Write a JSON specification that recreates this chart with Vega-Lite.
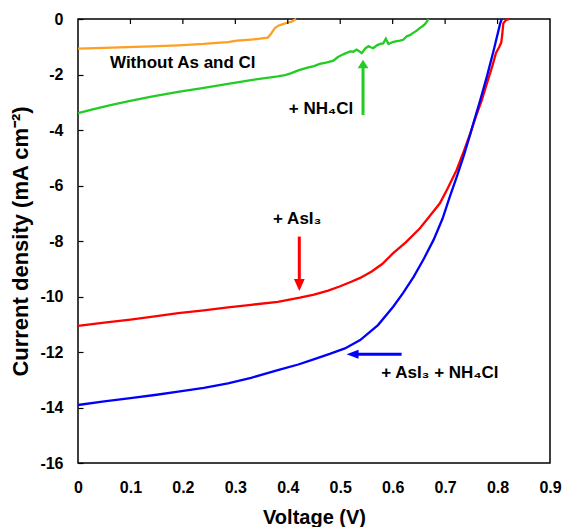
{
  "$schema": "https://vega.github.io/schema/vega-lite/v6.json",
  "width": 472,
  "height": 444,
  "autosize": {"type": "none"},
  "padding": {"left": 78, "top": 19, "right": 12, "bottom": 64},
  "background": "white",
  "config": {
    "font": "Liberation Sans",
    "view": {"stroke": "#000000", "strokeWidth": 1.5},
    "axis": {"labelFont": "Liberation Sans", "labelFontWeight": "bold", "labelFontSize": 16, "labelColor": "#000", "titleFont": "Liberation Sans", "titleFontWeight": "bold", "titleColor": "#000", "grid": false, "domain": false, "tickColor": "#000", "tickWidth": 1.2}
  },
  "datasets": {
    "curves": [
      {"V": 0, "J": -3.39, "s": "nh4cl"}, {"V": 0.03, "J": -3.25, "s": "nh4cl"}, {"V": 0.06, "J": -3.11, "s": "nh4cl"}, {"V": 0.095, "J": -2.97, "s": "nh4cl"}, {"V": 0.14, "J": -2.8, "s": "nh4cl"}, {"V": 0.191, "J": -2.63, "s": "nh4cl"}, {"V": 0.24, "J": -2.48, "s": "nh4cl"}, {"V": 0.286, "J": -2.34, "s": "nh4cl"}, {"V": 0.33, "J": -2.2, "s": "nh4cl"}, {"V": 0.381, "J": -2.07, "s": "nh4cl"}, {"V": 0.395, "J": -2.02, "s": "nh4cl"}, {"V": 0.407, "J": -1.95, "s": "nh4cl"}, {"V": 0.42, "J": -1.85, "s": "nh4cl"}, {"V": 0.436, "J": -1.76, "s": "nh4cl"}, {"V": 0.45, "J": -1.7, "s": "nh4cl"}, {"V": 0.461, "J": -1.62, "s": "nh4cl"}, {"V": 0.475, "J": -1.56, "s": "nh4cl"}, {"V": 0.487, "J": -1.5, "s": "nh4cl"}, {"V": 0.495, "J": -1.38, "s": "nh4cl"}, {"V": 0.503, "J": -1.3, "s": "nh4cl"}, {"V": 0.51, "J": -1.24, "s": "nh4cl"}, {"V": 0.519, "J": -1.17, "s": "nh4cl"}, {"V": 0.525, "J": -1.18, "s": "nh4cl"}, {"V": 0.531, "J": -1.1, "s": "nh4cl"}, {"V": 0.536, "J": -1.16, "s": "nh4cl"}, {"V": 0.541, "J": -1.23, "s": "nh4cl"}, {"V": 0.548, "J": -1.06, "s": "nh4cl"}, {"V": 0.554, "J": -0.98, "s": "nh4cl"}, {"V": 0.558, "J": -1.02, "s": "nh4cl"}, {"V": 0.563, "J": -1.05, "s": "nh4cl"}, {"V": 0.57, "J": -0.95, "s": "nh4cl"}, {"V": 0.576, "J": -0.9, "s": "nh4cl"}, {"V": 0.582, "J": -0.88, "s": "nh4cl"}, {"V": 0.587, "J": -0.71, "s": "nh4cl"}, {"V": 0.592, "J": -0.9, "s": "nh4cl"}, {"V": 0.6, "J": -0.83, "s": "nh4cl"}, {"V": 0.608, "J": -0.8, "s": "nh4cl"}, {"V": 0.614, "J": -0.78, "s": "nh4cl"}, {"V": 0.62, "J": -0.75, "s": "nh4cl"}, {"V": 0.627, "J": -0.62, "s": "nh4cl"}, {"V": 0.633, "J": -0.58, "s": "nh4cl"}, {"V": 0.639, "J": -0.5, "s": "nh4cl"}, {"V": 0.646, "J": -0.42, "s": "nh4cl"}, {"V": 0.652, "J": -0.32, "s": "nh4cl"}, {"V": 0.657, "J": -0.26, "s": "nh4cl"}, {"V": 0.662, "J": -0.18, "s": "nh4cl"}, {"V": 0.666, "J": -0.07, "s": "nh4cl"}, {"V": 0.668, "J": 0, "s": "nh4cl"},
      {"V": 0, "J": -1.07, "s": "none"}, {"V": 0.05, "J": -1.04, "s": "none"}, {"V": 0.093, "J": -1.01, "s": "none"}, {"V": 0.14, "J": -0.99, "s": "none"}, {"V": 0.191, "J": -0.95, "s": "none"}, {"V": 0.24, "J": -0.9, "s": "none"}, {"V": 0.264, "J": -0.86, "s": "none"}, {"V": 0.286, "J": -0.83, "s": "none"}, {"V": 0.303, "J": -0.78, "s": "none"}, {"V": 0.33, "J": -0.74, "s": "none"}, {"V": 0.347, "J": -0.71, "s": "none"}, {"V": 0.362, "J": -0.67, "s": "none"}, {"V": 0.367, "J": -0.56, "s": "none"}, {"V": 0.372, "J": -0.42, "s": "none"}, {"V": 0.376, "J": -0.32, "s": "none"}, {"V": 0.382, "J": -0.24, "s": "none"}, {"V": 0.388, "J": -0.2, "s": "none"}, {"V": 0.395, "J": -0.16, "s": "none"}, {"V": 0.4, "J": -0.12, "s": "none"}, {"V": 0.407, "J": -0.1, "s": "none"}, {"V": 0.412, "J": -0.04, "s": "none"}, {"V": 0.416, "J": 0, "s": "none"},
      {"V": 0, "J": -11.06, "s": "asi3"}, {"V": 0.05, "J": -10.94, "s": "asi3"}, {"V": 0.1, "J": -10.83, "s": "asi3"}, {"V": 0.15, "J": -10.71, "s": "asi3"}, {"V": 0.191, "J": -10.6, "s": "asi3"}, {"V": 0.24, "J": -10.5, "s": "asi3"}, {"V": 0.286, "J": -10.39, "s": "asi3"}, {"V": 0.33, "J": -10.3, "s": "asi3"}, {"V": 0.381, "J": -10.19, "s": "asi3"}, {"V": 0.423, "J": -10.04, "s": "asi3"}, {"V": 0.45, "J": -9.93, "s": "asi3"}, {"V": 0.477, "J": -9.79, "s": "asi3"}, {"V": 0.5, "J": -9.63, "s": "asi3"}, {"V": 0.521, "J": -9.47, "s": "asi3"}, {"V": 0.538, "J": -9.33, "s": "asi3"}, {"V": 0.56, "J": -9.1, "s": "asi3"}, {"V": 0.58, "J": -8.83, "s": "asi3"}, {"V": 0.601, "J": -8.44, "s": "asi3"}, {"V": 0.625, "J": -8.05, "s": "asi3"}, {"V": 0.652, "J": -7.54, "s": "asi3"}, {"V": 0.67, "J": -7.12, "s": "asi3"}, {"V": 0.69, "J": -6.64, "s": "asi3"}, {"V": 0.705, "J": -6.1, "s": "asi3"}, {"V": 0.722, "J": -5.44, "s": "asi3"}, {"V": 0.735, "J": -4.8, "s": "asi3"}, {"V": 0.748, "J": -4.12, "s": "asi3"}, {"V": 0.76, "J": -3.45, "s": "asi3"}, {"V": 0.77, "J": -2.92, "s": "asi3"}, {"V": 0.78, "J": -2.3, "s": "asi3"}, {"V": 0.79, "J": -1.7, "s": "asi3"}, {"V": 0.797, "J": -1.22, "s": "asi3"}, {"V": 0.803, "J": -1.02, "s": "asi3"}, {"V": 0.807, "J": -0.85, "s": "asi3"}, {"V": 0.809, "J": -0.55, "s": "asi3"}, {"V": 0.811, "J": -0.15, "s": "asi3"}, {"V": 0.816, "J": -0.04, "s": "asi3"}, {"V": 0.822, "J": 0, "s": "asi3"},
      {"V": 0, "J": -13.91, "s": "both"}, {"V": 0.05, "J": -13.78, "s": "both"}, {"V": 0.1, "J": -13.66, "s": "both"}, {"V": 0.15, "J": -13.54, "s": "both"}, {"V": 0.191, "J": -13.43, "s": "both"}, {"V": 0.24, "J": -13.29, "s": "both"}, {"V": 0.286, "J": -13.13, "s": "both"}, {"V": 0.33, "J": -12.93, "s": "both"}, {"V": 0.381, "J": -12.65, "s": "both"}, {"V": 0.42, "J": -12.45, "s": "both"}, {"V": 0.445, "J": -12.29, "s": "both"}, {"V": 0.48, "J": -12.07, "s": "both"}, {"V": 0.509, "J": -11.87, "s": "both"}, {"V": 0.538, "J": -11.57, "s": "both"}, {"V": 0.572, "J": -11.03, "s": "both"}, {"V": 0.601, "J": -10.37, "s": "both"}, {"V": 0.62, "J": -9.87, "s": "both"}, {"V": 0.64, "J": -9.29, "s": "both"}, {"V": 0.66, "J": -8.62, "s": "both"}, {"V": 0.678, "J": -7.96, "s": "both"}, {"V": 0.695, "J": -7.2, "s": "both"}, {"V": 0.709, "J": -6.4, "s": "both"}, {"V": 0.722, "J": -5.7, "s": "both"}, {"V": 0.735, "J": -4.96, "s": "both"}, {"V": 0.748, "J": -4.15, "s": "both"}, {"V": 0.754, "J": -3.75, "s": "both"}, {"V": 0.767, "J": -2.92, "s": "both"}, {"V": 0.78, "J": -2.05, "s": "both"}, {"V": 0.793, "J": -1.1, "s": "both"}, {"V": 0.805, "J": -0.16, "s": "both"}, {"V": 0.808, "J": 0, "s": "both"}
    ],
    "shafts": [
      {"V": 0.5435, "J": -3.46, "V2": 0.5435, "J2": -1.75, "s": "nh4cl"},
      {"V": 0.422, "J": -7.84, "V2": 0.422, "J2": -9.4, "s": "asi3"},
      {"V": 0.617, "J": -12.08, "V2": 0.53, "J2": -12.08, "s": "both"}
    ],
    "heads": [
      {"V": 0.5435, "J": -1.62, "s": "nh4cl"},
      {"V": 0.422, "J": -9.59, "s": "asi3"},
      {"V": 0.5235, "J": -12.08, "s": "both"}
    ],
    "labels": [
      {"V": 0.061, "J": -1.6, "t": "Without As and Cl"},
      {"V": 0.402, "J": -3.24, "t": "+ NH₄Cl"},
      {"V": 0.372, "J": -7.21, "t": "+ AsI₃"},
      {"V": 0.578, "J": -12.76, "t": "+ AsI₃ + NH₄Cl"}
    ],
    "topticks": [
      {"V": 0.1}, {"V": 0.2}, {"V": 0.3}, {"V": 0.4}, {"V": 0.5}, {"V": 0.6}, {"V": 0.7}, {"V": 0.8}
    ]
  },
  "layer": [
    {
      "data": {"name": "curves"},
      "mark": {"type": "line", "strokeWidth": 2.3},
      "encoding": {
        "x": {"field": "V", "type": "quantitative", "scale": {"domain": [0, 0.9], "nice": false, "zero": false},
          "axis": {"orient": "bottom", "values": [0, 0.1, 0.2, 0.3, 0.4, 0.5, 0.6, 0.7, 0.8, 0.9], "labelExpr": "datum.value + ''", "ticks": false, "labelPadding": 16, "labelFlush": false, "title": "Voltage (V)", "titleFontSize": 20, "titlePadding": 12}},
        "y": {"field": "J", "type": "quantitative", "scale": {"domain": [-16, 0], "nice": false},
          "axis": {"orient": "left", "values": [0, -2, -4, -6, -8, -10, -12, -14, -16], "labelExpr": "datum.value + ''", "tickSize": 5, "offset": -5, "labelPadding": 15, "labelFlush": false, "title": "Current density (mA cm⁻²)", "titleFontSize": 22, "titlePadding": 7}},
        "color": {"field": "s", "type": "nominal", "scale": {"domain": ["nh4cl", "none", "asi3", "both"], "range": ["#22CC22", "#FF9E20", "#FF0000", "#0000FF"]}, "legend": null},
        "detail": {"field": "s"}
      }
    },
    {
      "data": {"name": "topticks"},
      "mark": {"type": "rule", "strokeWidth": 1.2, "color": "#000"},
      "encoding": {
        "x": {"field": "V", "type": "quantitative"},
        "y": {"datum": 0},
        "y2": {"datum": -0.18}
      }
    },
    {
      "data": {"name": "shafts"},
      "mark": {"type": "rule", "strokeWidth": 3},
      "encoding": {
        "x": {"field": "V", "type": "quantitative"},
        "x2": {"field": "V2"},
        "y": {"field": "J", "type": "quantitative"},
        "y2": {"field": "J2"},
        "color": {"field": "s", "type": "nominal", "legend": null}
      }
    },
    {
      "data": {"name": "heads"},
      "transform": [{"filter": "datum.s === 'nh4cl'"}],
      "mark": {"type": "point", "filled": true, "opacity": 1, "size": 144, "shape": "M0,-0.7L-0.9,0.7L0.9,0.7Z"},
      "encoding": {
        "x": {"field": "V", "type": "quantitative"},
        "y": {"field": "J", "type": "quantitative"},
        "color": {"field": "s", "type": "nominal", "legend": null}
      }
    },
    {
      "data": {"name": "heads"},
      "transform": [{"filter": "datum.s === 'asi3'"}],
      "mark": {"type": "point", "filled": true, "opacity": 1, "size": 144, "shape": "M0,1L-0.9,-1L0.9,-1Z"},
      "encoding": {
        "x": {"field": "V", "type": "quantitative"},
        "y": {"field": "J", "type": "quantitative"},
        "color": {"field": "s", "type": "nominal", "legend": null}
      }
    },
    {
      "data": {"name": "heads"},
      "transform": [{"filter": "datum.s === 'both'"}],
      "mark": {"type": "point", "filled": true, "opacity": 1, "size": 144, "shape": "M-1,0L1,-0.75L1,0.75Z"},
      "encoding": {
        "x": {"field": "V", "type": "quantitative"},
        "y": {"field": "J", "type": "quantitative"},
        "color": {"field": "s", "type": "nominal", "legend": null}
      }
    },
    {
      "data": {"name": "labels"},
      "mark": {"type": "text", "align": "left", "baseline": "middle", "fontSize": 17, "fontWeight": "bold", "font": "Liberation Sans", "color": "#000"},
      "encoding": {
        "x": {"field": "V", "type": "quantitative"},
        "y": {"field": "J", "type": "quantitative"},
        "text": {"field": "t"}
      }
    }
  ]
}
